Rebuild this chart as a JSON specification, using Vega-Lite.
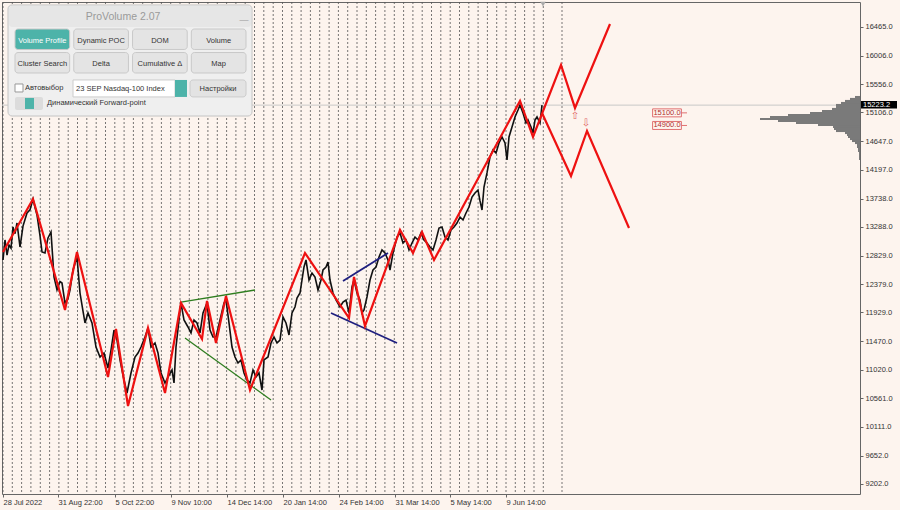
{
 "$schema": "https://vega.github.io/schema/vega-lite/v6.json",
 "width": 858, "height": 492,
 "autosize": {"type": "none"},
 "padding": {"left": 2, "top": 2, "right": 40, "bottom": 16},
 "background": "#fdf4ee",
 "config": {"view": {"stroke": "#666666", "strokeWidth": 1}, "font": "Liberation Sans", "axis": {"labelOverlap": false, "labelFlush": false}},
 "datasets": {
  "grid": [{"t":3},{"t":12.3},{"t":21.6},{"t":30.9},{"t":40.3},{"t":49.6},{"t":58.9},{"t":68.2},{"t":77.5},{"t":86.8},{"t":96.2},{"t":105.5},{"t":114.8},{"t":124.1},{"t":133.4},{"t":142.7},{"t":152},{"t":161.4},{"t":170.7},{"t":180},{"t":189.3},{"t":198.6},{"t":207.9},{"t":217.3},{"t":226.6},{"t":235.9},{"t":245.2},{"t":254.5},{"t":263.8},{"t":273.2},{"t":282.5},{"t":291.8},{"t":301.1},{"t":310.4},{"t":319.7},{"t":329.1},{"t":338.4},{"t":347.7},{"t":357},{"t":366.3},{"t":375.6},{"t":384.9},{"t":394.3},{"t":403.6},{"t":412.9},{"t":422.2},{"t":431.5},{"t":440.8},{"t":450.2},{"t":459.5},{"t":468.8},{"t":478.1},{"t":487.4},{"t":496.7},{"t":506},{"t":515.3},{"t":524.6},{"t":534},{"t":543.3},{"t":562}],
  "px": [{"t":3,"p":12762},{"t":5,"p":13080},{"t":7,"p":12840},{"t":9,"p":13000},{"t":11,"p":12950},{"t":13,"p":13286},{"t":15,"p":13180},{"t":17,"p":13350},{"t":20,"p":12968},{"t":23,"p":13300},{"t":27,"p":13509},{"t":30,"p":13560},{"t":33,"p":13731},{"t":35,"p":13600},{"t":37,"p":13477},{"t":40,"p":13150},{"t":42,"p":12889},{"t":45,"p":12873},{"t":48,"p":13112},{"t":51,"p":13207},{"t":54,"p":12492},{"t":57,"p":12285},{"t":60,"p":12420},{"t":62,"p":12396},{"t":65,"p":12078},{"t":68,"p":12150},{"t":70,"p":12285},{"t":73,"p":12603},{"t":77,"p":12810},{"t":80,"p":12237},{"t":83,"p":11950},{"t":85,"p":11761},{"t":88,"p":11920},{"t":92,"p":11761},{"t":96,"p":11379},{"t":100,"p":11220},{"t":104,"p":11284},{"t":108,"p":11045},{"t":111,"p":11331},{"t":114,"p":11649},{"t":117,"p":11490},{"t":120,"p":11173},{"t":124,"p":10855},{"t":127,"p":10648},{"t":131,"p":10966},{"t":135,"p":11220},{"t":138,"p":11284},{"t":141,"p":11379},{"t":145,"p":11538},{"t":148,"p":11681},{"t":151,"p":11379},{"t":155,"p":11443},{"t":158,"p":11284},{"t":161,"p":10966},{"t":165,"p":10807},{"t":168,"p":10902},{"t":172,"p":11014},{"t":174,"p":10807},{"t":176,"p":11379},{"t":179,"p":11808},{"t":181,"p":12078},{"t":184,"p":11808},{"t":188,"p":11697},{"t":191,"p":11602},{"t":194,"p":11808},{"t":197,"p":11761},{"t":200,"p":11602},{"t":203,"p":11920},{"t":207,"p":12078},{"t":210,"p":11649},{"t":213,"p":11538},{"t":216,"p":11538},{"t":220,"p":11808},{"t":224,"p":12078},{"t":226,"p":12126},{"t":229,"p":11761},{"t":232,"p":11379},{"t":235,"p":11220},{"t":238,"p":11125},{"t":241,"p":11173},{"t":244,"p":10966},{"t":247,"p":10855},{"t":250,"p":10807},{"t":253,"p":11014},{"t":256,"p":10902},{"t":259,"p":10966},{"t":262,"p":10696},{"t":264,"p":11173},{"t":268,"p":11220},{"t":271,"p":11443},{"t":274,"p":11538},{"t":277,"p":11443},{"t":280,"p":11490},{"t":283,"p":11856},{"t":286,"p":11761},{"t":289,"p":11570},{"t":292,"p":11920},{"t":295,"p":12015},{"t":297,"p":12158},{"t":300,"p":12237},{"t":302,"p":12444},{"t":304,"p":12651},{"t":306,"p":12762},{"t":309,"p":12444},{"t":312,"p":12555},{"t":315,"p":12492},{"t":318,"p":12285},{"t":321,"p":12444},{"t":323,"p":12603},{"t":326,"p":12651},{"t":328,"p":12730},{"t":330,"p":12444},{"t":333,"p":12237},{"t":336,"p":12126},{"t":340,"p":12015},{"t":343,"p":12094},{"t":346,"p":12126},{"t":349,"p":11920},{"t":352,"p":12333},{"t":354,"p":12444},{"t":357,"p":12237},{"t":360,"p":12126},{"t":362,"p":11920},{"t":364,"p":11967},{"t":367,"p":12174},{"t":370,"p":12444},{"t":373,"p":12603},{"t":376,"p":12651},{"t":379,"p":12810},{"t":382,"p":12921},{"t":385,"p":12873},{"t":388,"p":12762},{"t":390,"p":12603},{"t":393,"p":12873},{"t":397,"p":13127},{"t":400,"p":13191},{"t":403,"p":13032},{"t":406,"p":13080},{"t":409,"p":12921},{"t":412,"p":13032},{"t":415,"p":13127},{"t":418,"p":13080},{"t":421,"p":13191},{"t":424,"p":13080},{"t":427,"p":13032},{"t":430,"p":12968},{"t":433,"p":12921},{"t":436,"p":13080},{"t":439,"p":13270},{"t":442,"p":13286},{"t":445,"p":13127},{"t":448,"p":13080},{"t":451,"p":13239},{"t":454,"p":13286},{"t":457,"p":13350},{"t":460,"p":13445},{"t":463,"p":13398},{"t":466,"p":13509},{"t":469,"p":13604},{"t":472,"p":13763},{"t":475,"p":13827},{"t":478,"p":13874},{"t":480,"p":13700},{"t":482,"p":13557},{"t":484,"p":13922},{"t":487,"p":14145},{"t":490,"p":14399},{"t":493,"p":14510},{"t":496,"p":14462},{"t":499,"p":14621},{"t":502,"p":14717},{"t":505,"p":14621},{"t":507,"p":14351},{"t":509,"p":14717},{"t":512,"p":14876},{"t":515,"p":15035},{"t":518,"p":15146},{"t":520,"p":15225},{"t":523,"p":15098},{"t":526,"p":14939},{"t":528,"p":14987},{"t":531,"p":14876},{"t":533,"p":14780},{"t":535,"p":14987},{"t":537,"p":15035},{"t":540,"p":14939},{"t":542,"p":15223}],
  "red": [{"s":"r1","t":3,"p":12889},{"s":"r1","t":33,"p":13731},{"s":"r1","t":65,"p":11967},{"s":"r1","t":77,"p":12889},{"s":"r1","t":108,"p":10902},{"s":"r1","t":116,"p":11665},{"s":"r1","t":128,"p":10442},{"s":"r1","t":148,"p":11681},{"s":"r1","t":165,"p":10648},{"s":"r1","t":181,"p":12079},{"s":"r1","t":202,"p":11506},{"s":"r1","t":207,"p":12110},{"s":"r1","t":216,"p":11443},{"s":"r1","t":226,"p":12190},{"s":"r1","t":250,"p":10696},{"s":"r1","t":305,"p":12873},{"s":"r1","t":349,"p":11840},{"s":"r1","t":354,"p":12492},{"s":"r1","t":365,"p":11713},{"s":"r1","t":400,"p":13239},{"s":"r1","t":413,"p":12873},{"s":"r1","t":422,"p":13207},{"s":"r1","t":434,"p":12762},{"s":"r1","t":520,"p":15289},{"s":"r1","t":533,"p":14717},{"s":"r1","t":561,"p":15861},{"s":"r1","t":575,"p":15178},{"s":"r1","t":610,"p":16513},{"s":"r2","t":542,"p":15098},{"s":"r2","t":571,"p":14097},{"s":"r2","t":587,"p":14812},{"s":"r2","t":629,"p":13271}],
  "grn": [{"s":"g1","t":181,"p":12094},{"s":"g1","t":255,"p":12285},{"s":"g2","t":185,"p":11522},{"s":"g2","t":271,"p":10537}],
  "blu": [{"s":"b1","t":343,"p":12428},{"s":"b1","t":388,"p":12873},{"s":"b2","t":331,"p":11920},{"s":"b2","t":397,"p":11443}],
  "lv": [{"p":15100,"lab":"15100.0"},{"p":14900,"lab":"14900.0"}],
  "vp": [{"p":15352,"v":5},{"p":15321,"v":10},{"p":15289,"v":15},{"p":15257,"v":19},{"p":15225,"v":24},{"p":15194,"v":24},{"p":15162,"v":28},{"p":15130,"v":38},{"p":15098,"v":50},{"p":15066,"v":72},{"p":15035,"v":90},{"p":15003,"v":100},{"p":14971,"v":82},{"p":14939,"v":64},{"p":14908,"v":42},{"p":14876,"v":27},{"p":14844,"v":26},{"p":14812,"v":24},{"p":14780,"v":15},{"p":14749,"v":13},{"p":14717,"v":12},{"p":14685,"v":10},{"p":14653,"v":8},{"p":14621,"v":5},{"p":14590,"v":3},{"p":14558,"v":3},{"p":14526,"v":2},{"p":14494,"v":2},{"p":14463,"v":1},{"p":14431,"v":1},{"p":14399,"v":1},{"p":14367,"v":1}],
  "btn": [{"b":"Volume Profile","c":1,"r":1},{"b":"Dynamic POC","c":2,"r":1},{"b":"DOM","c":3,"r":1},{"b":"Volume","c":4,"r":1},{"b":"Cluster Search","c":1,"r":2},{"b":"Delta","c":2,"r":2},{"b":"Cumulative Δ","c":3,"r":2},{"b":"Map","c":4,"r":2}]
 },
 "layer": [
  {
   "layer": [
    {
     "layer": [
      {"data": {"name": "grid"}, "mark": {"type": "rule", "color": "#555555", "strokeDash": [2, 2], "strokeWidth": 1, "opacity": 0.8},
       "encoding": {"x": {"field": "t", "type": "quantitative", "scale": {"domain": [2, 860], "nice": false, "zero": false}, "title": null}}},
      {"data": {"values": [{}]}, "mark": {"type": "rule", "color": "#c8c8c8", "strokeWidth": 1},
       "encoding": {"y": {"datum": 15223.2}}},
      {"data": {"name": "px"}, "mark": {"type": "line", "color": "#111111", "strokeWidth": 1.6, "strokeJoin": "miter"},
       "encoding": {
        "x": {"field": "t", "type": "quantitative", "scale": {"domain": [2, 860], "nice": false, "zero": false}, "title": null,
              "axis": {"orient": "bottom", "values": [3, 58, 115, 171, 227, 283, 339, 395, 450, 506], "tickCount": 30,
                       "labelExpr": "datum.value==3?'28 Jul 2022':datum.value==58?'31 Aug 22:00':datum.value==115?'5 Oct 22:00':datum.value==171?'9 Nov 10:00':datum.value==227?'14 Dec 14:00':datum.value==283?'20 Jan 14:00':datum.value==339?'24 Feb 14:00':datum.value==395?'31 Mar 14:00':datum.value==450?'5 May 14:00':'9 Jun 14:00'",
                       "labelAlign": "left", "labelBaseline": "top", "labelPadding": 1, "tickSize": 3, "tickColor": "#666666",
                       "domain": false, "grid": false, "labelFontSize": 7.5, "labelColor": "#333333", "labelOverlap": false, "labelBound": false, "labelFlush": false}},
        "y": {"field": "p", "type": "quantitative", "scale": {"domain": [9043, 16862], "nice": false, "zero": false}, "title": null,
              "axis": {"orient": "right", "values": [16465, 16006, 15556, 15106, 14647, 14197, 13738, 13288, 12829, 12379, 11929, 11470, 11020, 10561, 10111, 9652, 9202], "tickCount": 30,
                       "format": ".1f", "tickSize": 3, "tickColor": "#666666", "domain": false, "grid": false, "labelFontSize": 7.5,
                       "labelColor": "#333333", "labelPadding": 2, "labelOverlap": false, "labelFlush": false, "labelBaseline": "middle"}}
       }},
      {"data": {"name": "grn"}, "mark": {"type": "line", "color": "#2e7d1f", "strokeWidth": 1.3},
       "encoding": {"x": {"field": "t", "type": "quantitative", "title": null}, "y": {"field": "p", "type": "quantitative", "title": null}, "detail": {"field": "s"}}},
      {"data": {"name": "blu"}, "mark": {"type": "line", "color": "#1f1f7f", "strokeWidth": 1.8},
       "encoding": {"x": {"field": "t", "type": "quantitative", "title": null}, "y": {"field": "p", "type": "quantitative", "title": null}, "detail": {"field": "s"}}},
      {"data": {"name": "red"}, "mark": {"type": "line", "color": "#ee1111", "strokeWidth": 2.2, "strokeJoin": "miter"},
       "encoding": {"x": {"field": "t", "type": "quantitative", "title": null}, "y": {"field": "p", "type": "quantitative", "title": null}, "detail": {"field": "s"}}},
      {"data": {"values": [{}]}, "mark": {"type": "text", "font": "DejaVu Sans", "fontSize": 10, "color": "#e06060", "align": "center", "baseline": "middle"},
       "encoding": {"x": {"datum": 575}, "y": {"datum": 15050}, "text": {"value": "⇧"}}},
      {"data": {"values": [{}]}, "mark": {"type": "text", "font": "DejaVu Sans", "fontSize": 10, "color": "#e06060", "align": "center", "baseline": "middle"},
       "encoding": {"x": {"datum": 586}, "y": {"datum": 14939}, "text": {"value": "⇩"}}},
      {"data": {"name": "lv"}, "mark": {"type": "point", "shape": "M-1.8,-0.5H1.8V0.5H-1.8Z M1.8,0H2.5", "size": 256, "filled": false, "stroke": "#e07070", "strokeWidth": 1, "opacity": 1},
       "encoding": {"x": {"datum": 667}, "y": {"field": "p", "type": "quantitative", "title": null}}},
      {"data": {"name": "lv"}, "mark": {"type": "text", "fontSize": 7.5, "color": "#b03030", "align": "center", "baseline": "middle"},
       "encoding": {"x": {"datum": 667}, "y": {"field": "p", "type": "quantitative", "title": null}, "text": {"field": "lab"}}},
      {"data": {"values": [{}]}, "mark": {"type": "rect", "color": "#000000"},
       "encoding": {"x": {"datum": 861}, "x2": {"datum": 897}, "y": {"datum": 15290}, "y2": {"datum": 15168}}},
      {"data": {"values": [{}]}, "mark": {"type": "text", "fontSize": 7.5, "color": "#ffffff", "align": "left", "baseline": "middle", "dx": 2},
       "encoding": {"x": {"datum": 861}, "y": {"datum": 15229}, "text": {"value": "15223.2"}}},
      {"data": {"values": [{}]}, "mark": {"type": "point", "shape": "triangle-down", "size": 30, "filled": true, "color": "#aaaaaa", "opacity": 1},
       "encoding": {"x": {"datum": 543}, "y": {"datum": 16830}}},
      {"data": {"values": [{}]}, "mark": {"type": "rect", "color": "#efefef", "stroke": "#c4c4c4", "strokeWidth": 1, "cornerRadius": 4},
       "encoding": {"x": {"datum": 8}, "x2": {"datum": 252}, "y": {"datum": 16815}, "y2": {"datum": 15050}}},
      {"data": {"values": [{}]}, "mark": {"type": "rect", "color": "#e6e6e6", "cornerRadius": 3},
       "encoding": {"x": {"datum": 9}, "x2": {"datum": 251}, "y": {"datum": 16799}, "y2": {"datum": 16465}}},
      {"data": {"values": [{}]}, "mark": {"type": "text", "fontSize": 10.5, "color": "#9a9a9a", "align": "center", "baseline": "middle"},
       "encoding": {"x": {"datum": 123}, "y": {"datum": 16624}, "text": {"value": "ProVolume 2.07"}}},
      {"data": {"values": [{}]}, "mark": {"type": "text", "fontSize": 9, "color": "#999999", "align": "center", "baseline": "middle"},
       "encoding": {"x": {"datum": 244}, "y": {"datum": 16580}, "text": {"value": "—"}}},
      {"data": {"values": [{}]}, "mark": {"type": "rect", "color": "#ffffff", "stroke": "#999999", "strokeWidth": 1},
       "encoding": {"x": {"datum": 15}, "x2": {"datum": 23}, "y": {"datum": 15559}, "y2": {"datum": 15432}}},
      {"data": {"values": [{}]}, "mark": {"type": "text", "fontSize": 7.5, "color": "#333333", "align": "left", "baseline": "middle"},
       "encoding": {"x": {"datum": 25}, "y": {"datum": 15496}, "text": {"value": "Автовыбор"}}},
      {"data": {"values": [{}]}, "mark": {"type": "rect", "color": "#ffffff", "stroke": "#cccccc", "strokeWidth": 1},
       "encoding": {"x": {"datum": 73}, "x2": {"datum": 175}, "y": {"datum": 15623}, "y2": {"datum": 15353}}},
      {"data": {"values": [{}]}, "mark": {"type": "text", "fontSize": 7.5, "color": "#333333", "align": "left", "baseline": "middle"},
       "encoding": {"x": {"datum": 76}, "y": {"datum": 15480}, "text": {"value": "23 SEP Nasdaq-100 Index"}}},
      {"data": {"values": [{}]}, "mark": {"type": "rect", "color": "#4db3a9"},
       "encoding": {"x": {"datum": 175}, "x2": {"datum": 187}, "y": {"datum": 15623}, "y2": {"datum": 15353}}},
      {"data": {"values": [{}]}, "mark": {"type": "rect", "color": "#e3e3e3", "stroke": "#cccccc", "strokeWidth": 1, "cornerRadius": 3},
       "encoding": {"x": {"datum": 190}, "x2": {"datum": 246}, "y": {"datum": 15623}, "y2": {"datum": 15353}}},
      {"data": {"values": [{}]}, "mark": {"type": "text", "fontSize": 7.5, "color": "#333333", "align": "center", "baseline": "middle"},
       "encoding": {"x": {"datum": 218}, "y": {"datum": 15480}, "text": {"value": "Настройки"}}},
      {"data": {"values": [{}]}, "mark": {"type": "rect", "color": "#dcdcdc", "cornerRadius": 2},
       "encoding": {"x": {"datum": 15}, "x2": {"datum": 43}, "y": {"datum": 15353}, "y2": {"datum": 15147}}},
      {"data": {"values": [{}]}, "mark": {"type": "rect", "color": "#4db3a9"},
       "encoding": {"x": {"datum": 25}, "x2": {"datum": 34}, "y": {"datum": 15337}, "y2": {"datum": 15162}}},
      {"data": {"values": [{}]}, "mark": {"type": "text", "fontSize": 7.5, "color": "#333333", "align": "left", "baseline": "middle"},
       "encoding": {"x": {"datum": 47}, "y": {"datum": 15257}, "text": {"value": "Динамический Forward-point"}}}
     ]
    },
    {"data": {"name": "vp"}, "mark": {"type": "rule", "color": "#7a7a7a", "strokeWidth": 2.1},
     "encoding": {
      "x": {"field": "v", "type": "quantitative", "scale": {"domain": [0, 858], "reverse": true, "nice": false, "zero": false}, "axis": null},
      "x2": {"datum": 0},
      "y": {"field": "p", "type": "quantitative", "title": null}}}
   ],
   "resolve": {"scale": {"x": "independent"}}
  },
  {
   "data": {"name": "btn"},
   "layer": [
    {"mark": {"type": "rect", "cornerRadius": 3, "stroke": "#c9c9c9", "strokeWidth": 1},
     "encoding": {
      "x": {"field": "c", "type": "ordinal", "scale": {"type": "band", "range": [13, 244], "paddingInner": 0.07, "paddingOuter": 0}, "axis": null},
      "y": {"field": "r", "type": "ordinal", "scale": {"type": "band", "range": [27, 71], "paddingInner": 0.13, "paddingOuter": 0}, "axis": null},
      "color": {"condition": {"test": "datum.b === 'Volume Profile'", "value": "#4db3a9"}, "value": "#e4e4e4"}}},
    {"mark": {"type": "text", "fontSize": 7.5, "baseline": "middle", "align": "center", "dy": 1.5},
     "encoding": {
      "x": {"field": "c", "type": "ordinal", "axis": null},
      "y": {"field": "r", "type": "ordinal", "axis": null},
      "text": {"field": "b"},
      "color": {"condition": {"test": "datum.b === 'Volume Profile'", "value": "#ffffff"}, "value": "#333333"}}}
   ]
  }
 ],
 "resolve": {"scale": {"x": "independent", "y": "independent"}}
}
